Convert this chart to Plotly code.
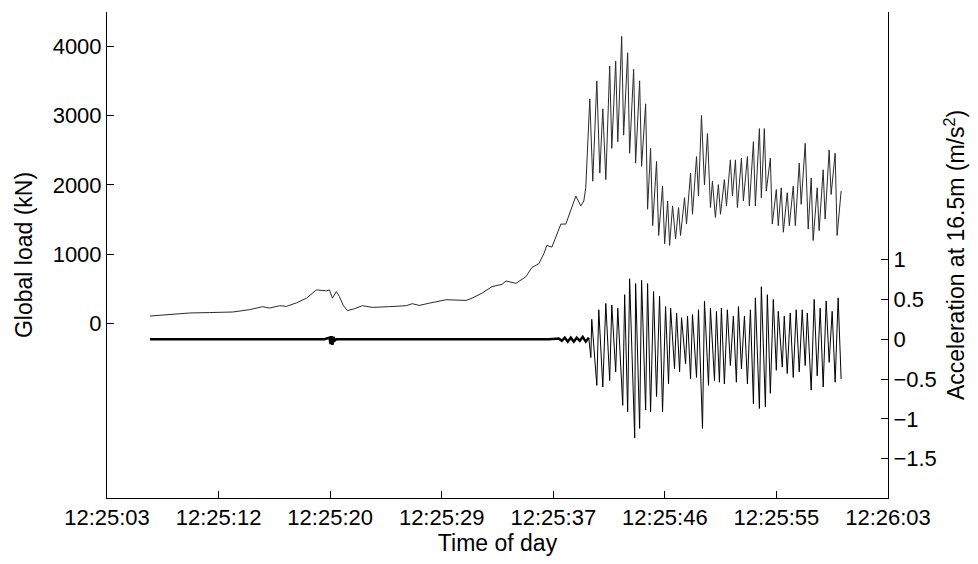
import plotly.graph_objects as go

# ---------------- data ----------------
# time in seconds after 12:25:00
load_t = [6.90, 8.43, 9.96, 11.49, 13.26, 14.56, 15.55, 16.09, 16.86, 17.39, 18.16, 18.93, 19.69, 20.46,
          20.69, 20.92, 21.22, 21.45, 21.76, 22.07, 22.60, 23.22, 23.98, 25.29, 26.59, 27.05, 27.59, 28.35,
          29.12, 29.65, 31.19, 31.65, 32.41, 33.18, 33.95, 34.25, 35.02, 35.78, 36.24, 36.78, 37.16, 37.39,
          37.78, 38.47, 38.85, 39.31, 39.62, 40.00, 40.23, 40.38, 40.69, 40.92, 41.23, 41.46, 41.69, 41.92,
          42.22, 42.38, 42.68, 42.84, 43.14, 43.29, 43.60, 43.75, 44.06, 44.21, 44.52, 44.67, 44.98, 45.13,
          45.36, 45.52, 45.82, 45.98, 46.28, 46.44, 46.67, 46.82, 47.05, 47.28, 47.51, 47.66, 47.97, 48.12,
          48.43, 48.58, 48.89, 49.04, 49.27, 49.50, 49.73, 49.96, 50.11, 50.34, 50.57, 50.73, 51.03, 51.19,
          51.49, 51.65, 51.88, 52.03, 52.34, 52.49, 52.80, 52.95, 53.26, 53.41, 53.72, 53.87, 54.10, 54.25,
          54.56, 54.71, 55.02, 55.17, 55.40, 55.56, 55.86, 56.02, 56.32, 56.48, 56.78, 56.93, 57.24, 57.47,
          57.70, 57.85, 58.16, 58.31, 58.62, 58.77, 59.08, 59.23, 59.54, 59.69, 60.00]
load_kn = [110, 130, 154, 160, 168, 202, 245, 225, 259, 249, 300, 368, 487, 473,
           487, 368, 463, 392, 260, 188, 215, 259, 235, 245, 259, 288, 263, 295,
           330, 345, 335, 368, 440, 534, 567, 615, 581, 677, 809, 866, 1008, 1128,
           1104, 1436, 1436, 1674, 1840, 1698, 1769, 1959, 3241, 2054, 3501, 2172, 3098, 2077,
           3715, 2528, 3786, 2624, 4142, 2718, 3906, 2457, 3668, 2315, 3501, 2268, 3170, 1650,
           2528, 1413, 2339, 1271, 1983, 1151, 1769, 1128, 1698, 1222, 1674, 1271, 1816, 1436,
           2172, 1578, 2410, 1840, 3003, 2000, 2742, 1674, 2054, 1531, 2006, 1578, 2077, 1698,
           2362, 1840, 2362, 1674, 2386, 1769, 2410, 1698, 2624, 1698, 2813, 1816, 2813, 1912,
           2386, 1436, 1935, 1413, 1959, 1318, 1888, 1413, 1983, 1413, 2315, 1721, 2600, 1365,
           2101, 1199, 1959, 1342, 2219, 1507, 2504, 1863, 2457, 1271, 1912]

# acceleration, quiet part
acc_quiet_t = [6.90, 8.43, 9.96, 11.49, 13.03, 14.56, 16.09, 17.62, 19.16, 20.31, 20.69, 20.77, 20.84, 20.92,
               21.00, 21.07, 21.22, 22.22, 23.75, 25.29, 26.82, 28.35, 29.88, 31.42, 32.95, 34.48, 36.01,
               37.55, 38.31, 38.54, 38.77, 39.00, 39.23, 39.46, 39.69, 39.92, 40.15, 40.38, 40.61]
acc_quiet = [0.00, 0.00, 0.00, 0.00, 0.00, 0.00, 0.00, 0.00, 0.00, 0.00, 0.02, -0.06, 0.04, -0.07,
             0.03, -0.02, 0.00, 0.00, 0.00, 0.00, 0.00, 0.00, 0.00, 0.00, 0.00, 0.00, 0.00,
             0.00, 0.01, -0.02, 0.02, -0.03, 0.02, -0.03, 0.02, -0.02, 0.03, -0.03, 0.02]

# acceleration, active part
acc_t = [40.61, 40.77, 40.84, 41.23, 41.38, 41.69, 41.92, 42.22, 42.38, 42.68, 42.84, 43.22, 43.37, 43.60,
         43.75, 44.14, 44.21, 44.52, 44.67, 44.98, 45.13, 45.36, 45.59, 45.82, 46.05, 46.28, 46.51,
         46.74, 46.90, 47.20, 47.36, 47.59, 47.74, 48.05, 48.20, 48.43, 48.58, 48.89, 49.04, 49.35,
         49.50, 49.81, 49.96, 50.27, 50.42, 50.65, 50.80, 51.03, 51.26, 51.49, 51.72, 51.95, 52.11,
         52.34, 52.57, 52.80, 53.03, 53.26, 53.41, 53.72, 53.87, 54.18, 54.33, 54.56, 54.79, 55.02,
         55.17, 55.48, 55.63, 55.86, 56.09, 56.32, 56.55, 56.78, 57.01, 57.24, 57.40, 57.70, 57.93,
         58.16, 58.39, 58.62, 58.85, 59.08, 59.31, 59.54, 59.77, 60.00]
acc = [0.02, -0.23, 0.25, -0.58, 0.37, -0.60, 0.45, -0.52, 0.43, -0.41, 0.39, -0.83, 0.56, -0.91,
       0.76, -1.24, 0.70, -1.12, 0.74, -0.89, 0.70, -0.91, 0.60, -0.72, 0.54, -0.91, 0.41,
       -0.56, 0.39, -0.37, 0.33, -0.41, 0.27, -0.31, 0.29, -0.50, 0.31, -0.48, 0.37, -1.12,
       0.48, -0.58, 0.39, -0.52, 0.35, -0.54, 0.39, -0.56, 0.37, -0.33, 0.29, -0.54, 0.41,
       -0.37, 0.29, -0.56, 0.37, -0.81, 0.52, -0.87, 0.66, -0.85, 0.56, -0.68, 0.50, -0.39,
       0.35, -0.35, 0.29, -0.43, 0.33, -0.48, 0.37, -0.41, 0.37, -0.33, 0.33, -0.64, 0.50,
       -0.46, 0.39, -0.60, 0.48, -0.29, 0.35, -0.54, 0.52, -0.50]

x_start = 3.6
x_span = 60.0
x_ticklabels = ["12:25:03", "12:25:12", "12:25:20", "12:25:29", "12:25:37", "12:25:46", "12:25:55", "12:26:03"]
load_ticks = [0, 1000, 2000, 3000, 4000]
acc_ticks = [-1.5, -1, -0.5, 0, 0.5, 1]
acc_ticklabels = ["\u22121.5", "\u22121", "\u22120.5", "0", "0.5", "1"]

# ---------------- figure ----------------
FONT = "Liberation Sans, Arial, sans-serif"
TITLE_FONT = dict(family=FONT, size=23, color="black")
fig = go.Figure()
fig.add_trace(go.Scatter(x=load_t, y=load_kn, mode="lines", line=dict(color="#2a2a2a", width=1),
                         yaxis="y", showlegend=False))
fig.add_trace(go.Scatter(x=acc_quiet_t, y=acc_quiet, mode="lines", line=dict(color="black", width=2.5),
                         yaxis="y2", showlegend=False))
fig.add_trace(go.Scatter(x=acc_t, y=acc, mode="lines", line=dict(color="black", width=1),
                         yaxis="y2", showlegend=False))

n = len(x_ticklabels)
tickvals_x = [x_start + k * x_span / (n - 1) for k in range(n)]

fig.update_layout(
    width=978, height=564,
    margin=dict(l=107, r=90, t=12, b=60),
    paper_bgcolor="white", plot_bgcolor="white",
    font=dict(family=FONT, size=22, color="black"),
    xaxis=dict(range=[x_start, x_start + x_span], tickvals=tickvals_x, ticktext=x_ticklabels,
               ticks="inside", ticklen=7, tickcolor="black", showline=True, linecolor="black",
               linewidth=1, showgrid=False, zeroline=False,
               title=dict(text="Time of day", standoff=5, font=TITLE_FONT)),
    yaxis=dict(range=[-2514, 4494], tickvals=load_ticks, ticks="inside", ticklen=7, tickcolor="black",
               showline=True, linecolor="black", linewidth=1, showgrid=False, zeroline=False,
               title=dict(text="Global load (kN)", standoff=13, font=TITLE_FONT)),
    yaxis2=dict(range=[-1.994, 4.11], overlaying="y", side="right", tickvals=acc_ticks,
                ticktext=acc_ticklabels, ticks="inside", ticklen=7, tickcolor="black",
                showline=True, linecolor="black", linewidth=1, showgrid=False, zeroline=False,
                title=dict(text="Acceleration at 16.5m (m/s<sup>2</sup>)", standoff=12, font=TITLE_FONT)),
)

fig.write_html("out.html")
